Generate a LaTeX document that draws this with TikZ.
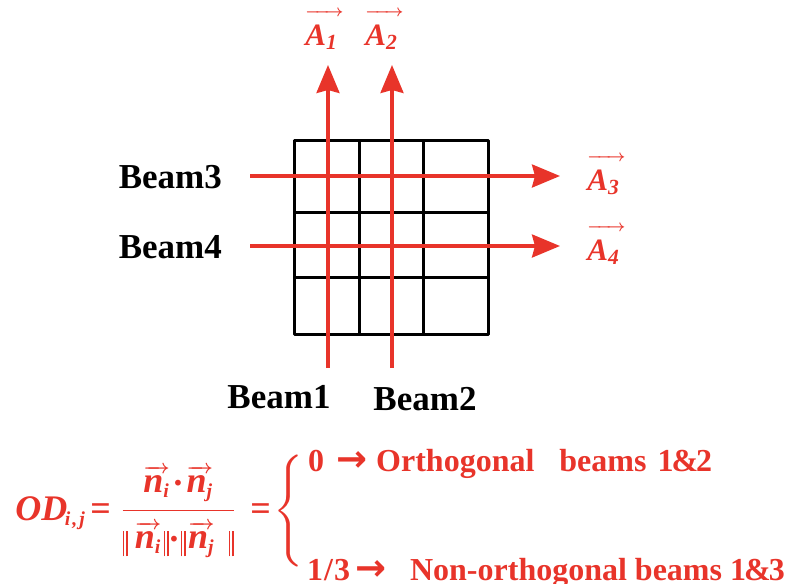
\documentclass[tikz,border=0pt]{standalone}
\usepackage{amsmath}
\usepackage{fontspec}
\setmainfont{Liberation Serif}
\newfontfamily\arrowfont{DejaVu Sans}
\usetikzlibrary{arrows.meta}
\definecolor{beamred}{RGB}{232,52,42}
\DeclareMathSizes{20}{20}{11}{8}
\newcommand{\bfit}[1]{\text{\bfseries\itshape #1}}
\newcommand{\eqsign}{\mathord{\text{\bfseries =}}}
\newcommand{\dbar}{\mathord{\hbox{\vrule height 9.5pt depth 4.5pt width 0.8pt\kern1.2pt\vrule height 9.5pt depth 4.5pt width 0.8pt}}}
\makeatletter
% short arrow over a symbol (arrow set in a small font)
\newcommand{\ovec}[2][1pt]{\mathord{\vbox{\m@th\ialign{##\crcr
  {\fontsize{11}{11}\selectfont\rightarrowfill}\crcr
  \noalign{\kern#1\nointerlineskip}
  $\m@th\displaystyle #2$\crcr}}}}
\makeatother
\newcommand{\vecn}[1]{\ovec{\bfit{n}_{\bfit{#1}}}}
\tikzset{
  gridline/.style={line width=3pt, black, line join=round},
  beam/.style={line width=3.2pt, beamred,
    -{Stealth[length=28pt,width=23pt,inset=3pt]}},
  beamname/.style={font=\fontsize{35}{40}\selectfont\bfseries, inner sep=0pt},
  veclabel/.style={text=beamred, scale=1.5, transform shape,
    font=\fontsize{20.74}{24}\selectfont\boldmath, inner sep=0pt},
  mathred/.style={text=beamred, scale=1.8, transform shape,
    font=\fontsize{20}{24}\selectfont\boldmath, inner sep=0pt},
  casetext/.style={text=beamred, font=\fontsize{32}{38}\selectfont\bfseries,
    inner sep=0pt, anchor=base west},
}
\newcommand{\bigarrow}{{\arrowfont\bfseries\fontsize{37}{38}\selectfont →}}
\begin{document}
\begin{tikzpicture}[x=1pt,y=-1pt]
  \useasboundingbox (0,0) rectangle (812,584);

  % the 3x3 grid
  \draw[gridline] (294,140) rectangle (488,334);
  \foreach \gx in {359,423}
    \draw[gridline] (\gx,140) -- (\gx,334);
  \foreach \gy in {212,277}
    \draw[gridline] (294,\gy) -- (488,\gy);

  % beam ends
  \coordinate (b1in) at (328,368);
  \coordinate (b1out) at (328,65);
  \coordinate (b2in) at (392,368);
  \coordinate (b2out) at (392,65);
  \coordinate (b3in) at (250,176);
  \coordinate (b3out) at (560,176);
  \coordinate (b4in) at (250,246);
  \coordinate (b4out) at (560,246);

  \draw[beam] (b1in) -- (b1out);
  \draw[beam] (b2in) -- (b2out);
  \draw[beam] (b3in) -- (b3out);
  \draw[beam] (b4in) -- (b4out);

  % beam names
  \node[beamname, anchor=base east] (beam3) at (222,188) {Beam3};
  \node[beamname, anchor=base east] (beam4) at (222,258) {Beam4};
  \node[beamname, anchor=base] (beam1) at (279,408) {Beam1};
  \node[beamname, anchor=base] (beam2) at (425,410) {Beam2};

  % output vectors
  \node[veclabel, anchor=base west] (a1) at (305,45)
    {$\ovec[5pt]{\bfit{A}_{\bfit{1}}\,}$};
  \node[veclabel, anchor=base west] (a2) at (365,45)
    {$\ovec[5pt]{\bfit{A}_{\bfit{2}}\,}$};
  \node[veclabel, anchor=base west] (a3) at (587,190)
    {$\ovec[5pt]{\bfit{A}_{\bfit{3}}\,}$};
  \node[veclabel, anchor=base west] (a4) at (587,260)
    {$\ovec[5pt]{\bfit{A}_{\bfit{4}}\,}$};

  % orthogonality degree
  \node[mathred, anchor=base west] (odeq) at (15,520)
    {$\bfit{OD}_{\mkern-2mu\bfit{i\kern0.1em,\kern0.1em j}}\mkern2mu\eqsign\mkern4mu
      \dfrac{\vecn{i}\mkern1mu{\cdot}\mkern1mu\vecn{j}}
            {\dbar\mkern3mu\vecn{i}\mkern1mu\dbar{\cdot}\dbar\mkern1mu\vecn{j}\mkern6mu\dbar}
      \mkern6mu\eqsign$};
  \node[mathred] (brace) at (290,511)
    {$\left\{\vrule height 25pt depth 25pt width 0pt\right.$};
  \node[casetext] (case1) at (308,471)
    {0\hspace{12pt}\bigarrow\hspace{9pt}Orthogonal\hspace{25pt}beams\hspace{11pt}1\kern-2pt\&\kern-2pt2};
  \node[casetext] (case2) at (307,580)
    {1\kern1pt/\kern1pt3\hspace{5pt}\bigarrow\hspace{24pt}Non-orthogonal beams 1\kern-2pt\&\kern-2pt3};
\end{tikzpicture}
\end{document}
